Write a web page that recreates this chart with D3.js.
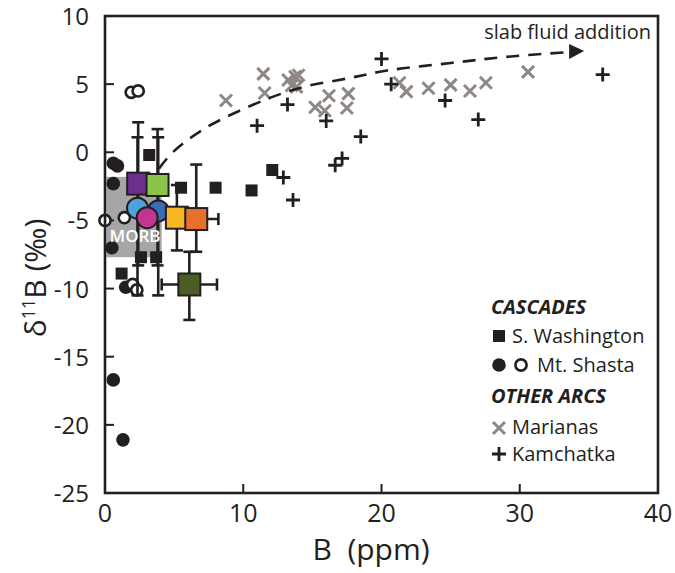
<!DOCTYPE html>
<html><head><meta charset="utf-8">
<script src="https://cdn.jsdelivr.net/npm/d3@7"></script>
<style>body{margin:0;background:#fff}svg{display:block}text{font-family:"Open Sans",sans-serif;fill:#231f20}</style>
</head><body><svg id="c" width="675" height="573"></svg>
<script>
// ---- data ----
const xTicks = [0, 10, 20, 30, 40];
const yTicks = [10, 5, 0, -5, -10, -15, -20, -25];
const morbBox = {x0: 0.1, x1: 4.1, y0: -1.8, y1: -7.7};
// S. Washington (black squares)
const washington = [[3.2,-0.2],[5.5,-2.6],[8.0,-2.6],[10.6,-2.8],[12.1,-1.3],[2.6,-7.7],[3.7,-7.7],[1.2,-8.9]];
// Mt. Shasta filled circles
const shastaFilled = [[0.6,-0.8],[0.9,-1.0],[0.6,-2.3],[0.5,-7.0],[1.5,-9.9],[0.6,-16.7],[1.3,-21.1]];
// Mt. Shasta open circles
const shastaOpen = [[1.9,4.4],[2.4,4.5],[0.0,-5.0],[1.4,-4.8],[2.0,-9.7],[2.3,-10.1]];
// Marianas (grey crosses)
const marianas = [[8.75,3.8],[11.45,5.75],[11.55,4.35],[13.25,5.3],[13.75,5.55],[14.0,5.65],[13.5,4.9],[13.85,4.8],
  [15.2,3.3],[15.9,3.05],[16.2,4.15],[17.6,4.3],[17.5,3.25],[21.3,5.1],[21.8,4.45],[23.4,4.7],[25.0,4.95],[26.4,4.5],[27.55,5.1],[30.6,5.9]];
// Kamchatka (plus)
const kamchatka = [[11.0,1.95],[13.2,3.5],[20.0,6.85],[20.7,5.0],[16.0,2.3],[18.5,1.15],[17.15,-0.45],[16.65,-0.95],
  [12.9,-1.85],[13.6,-3.5],[24.6,3.8],[27.0,2.4],[36.0,5.7]];
// averaged groups
const groupNames = ["purple","lightblue","green","blue","magenta","yellow","orange","olive"];
const groupShape = ["square","circle","square","circle","circle","square","square","square"];
const groupX =    [2.4, 2.35, 3.8, 3.85, 3.05, 5.2, 6.6, 6.1];
const groupY =    [-2.3, -4.1, -2.4, -4.3, -4.8, -4.8, -4.9, -9.7];
const groupYLo =  [-8.3, -10.5, -8.3, -10.5, null, -7.2, -7.3, -12.3];
const groupYHi =  [2.2, 1.1, 1.7, 1.1, null, -2.4, -0.9, -7.3];
const groupXLo =  [null, null, null, null, null, null, 5.0, 4.1];
const groupXHi =  [null, null, null, null, null, null, 8.2, 8.1];
const groupColor = ["#6b2f8c","#4ea3da","#8cc34b","#3c6db4","#c23690","#f8b824","#e8702a","#4b5d24"];
// slab fluid addition trend
const trend = [[3.9,-1.2],[4.9,0.0],[7.3,1.8],[11.7,3.9],[14.4,4.8],[17.7,5.45],[20.4,6.0],[25.0,6.55],[29.0,7.0],[33.5,7.35]];

// ---- chart ----
const svg = d3.select("#c");
const x = d3.scaleLinear().domain([0,40]).range([105,658]);
const y = d3.scaleLinear().domain([-25,10]).range([493,16]);
const ink = "#231f20";

// MORB box
svg.append("rect").attr("x",x(morbBox.x0)).attr("y",y(morbBox.y0))
  .attr("width",x(morbBox.x1)-x(morbBox.x0)).attr("height",y(morbBox.y1)-y(morbBox.y0)).attr("fill","#a6a6a6");

// ticks inside
const g = svg.append("g");
g.selectAll(".xt").data(xTicks.slice(1,-1)).join("line").attr("x1",d=>x(d)).attr("x2",d=>x(d))
  .attr("y1",y(-25)).attr("y2",y(-25)-9).attr("stroke",ink).attr("stroke-width",2);
g.selectAll(".yt").data(yTicks.slice(1,-1)).join("line").attr("y1",d=>y(d)).attr("y2",d=>y(d))
  .attr("x1",x(0)).attr("x2",x(0)+9).attr("stroke",ink).attr("stroke-width",2);
g.selectAll(".xl").data(xTicks).join("text").attr("x",d=>x(d)).attr("y",y(-25)+29)
  .attr("text-anchor","middle").style("font-size","25px").text(d=>d);
g.selectAll(".yl").data(yTicks).join("text").attr("x",x(0)-16).attr("y",d=>y(d)+9)
  .attr("text-anchor","end").style("font-size","24px").text(d=>d);

// Washington squares
svg.selectAll(".wa").data(washington).join("rect").attr("x",d=>x(d[0])-6).attr("y",d=>y(d[1])-6)
  .attr("width",12).attr("height",12).attr("fill",ink);
// Shasta
svg.selectAll(".sf").data(shastaFilled).join("circle").attr("cx",d=>x(d[0])).attr("cy",d=>y(d[1])).attr("r",6.8).attr("fill",ink);
svg.selectAll(".so").data(shastaOpen).join("circle").attr("cx",d=>x(d[0])).attr("cy",d=>y(d[1])).attr("r",5.6)
  .attr("fill","#fff").attr("stroke",ink).attr("stroke-width",2.6);

// error bars
const eb = svg.append("g").attr("stroke",ink).attr("stroke-width",2.6);
groupX.forEach((gx,i)=>{
  if (groupYLo[i]!==null){
    eb.append("line").attr("x1",x(gx)).attr("x2",x(gx)).attr("y1",y(groupYLo[i])).attr("y2",y(groupYHi[i]));
    [groupYLo[i],groupYHi[i]].forEach(v=>eb.append("line").attr("x1",x(gx)-6).attr("x2",x(gx)+6).attr("y1",y(v)).attr("y2",y(v)));
  }
  if (groupXLo[i]!==null){
    eb.append("line").attr("y1",y(groupY[i])).attr("y2",y(groupY[i])).attr("x1",x(groupXLo[i])).attr("x2",x(groupXHi[i]));
    [groupXLo[i],groupXHi[i]].forEach(v=>eb.append("line").attr("y1",y(groupY[i])-6).attr("y2",y(groupY[i])+6).attr("x1",x(v)).attr("x2",x(v)));
  }
});
// MORB label on top of error bars
svg.append("text").attr("x",x((morbBox.x0+morbBox.x1)/2)+1).attr("y",y(-6.6)).attr("text-anchor","middle")
  .style("fill","#fff").style("font-size","17px").style("font-weight","600").text("MORB");

// group markers
groupX.forEach((gx,i)=>{
  if (groupShape[i]==="square"){
    svg.append("rect").attr("x",x(gx)-11).attr("y",y(groupY[i])-11).attr("width",22).attr("height",22)
      .attr("fill",groupColor[i]).attr("stroke",ink).attr("stroke-width",2);
  } else {
    svg.append("circle").attr("cx",x(gx)).attr("cy",y(groupY[i])).attr("r",10.5)
      .attr("fill",groupColor[i]).attr("stroke",ink).attr("stroke-width",2);
  }
});

// Marianas crosses
const xs = 6;
svg.selectAll(".ma").data(marianas).join("path")
  .attr("d",d=>{const cx=x(d[0]),cy=y(d[1]);return `M${cx-xs},${cy-xs}L${cx+xs},${cy+xs}M${cx-xs},${cy+xs}L${cx+xs},${cy-xs}`;})
  .attr("stroke","#8e8783").attr("stroke-width",3).attr("fill","none");
// Kamchatka plus
const ps = 7;
svg.selectAll(".ka").data(kamchatka).join("path")
  .attr("d",d=>{const cx=x(d[0]),cy=y(d[1]);return `M${cx-ps},${cy}L${cx+ps},${cy}M${cx},${cy-ps}L${cx},${cy+ps}`;})
  .attr("stroke",ink).attr("stroke-width",2.8).attr("fill","none");

// trend line
const line = d3.line().x(d=>x(d[0])).y(d=>y(d[1])).curve(d3.curveCatmullRom);
svg.append("path").attr("d",line(trend)).attr("fill","none").attr("stroke",ink).attr("stroke-width",2.6).attr("stroke-dasharray","13,9");
const last = trend[trend.length-1];
const bx = x(last[0])+1, by = y(last[1]);
svg.append("path").attr("d",`M${bx},${by-8}L${bx+15},${by-1}L${bx},${by+7}Z`).attr("fill",ink);
svg.append("text").attr("x",651).attr("y",39).attr("text-anchor","end").style("font-size","20px").text("slab fluid addition");

// frame
svg.append("rect").attr("x",x(0)).attr("y",y(10)).attr("width",x(40)-x(0)).attr("height",y(-25)-y(10))
  .attr("fill","none").attr("stroke",ink).attr("stroke-width",2.6);

// axis titles
svg.append("text").attr("x",371).attr("y",560).attr("text-anchor","middle").style("font-size","30px").text("B\u00a0\u00a0(ppm)");
const yt = svg.append("text").attr("transform","translate(46,278) rotate(-90)").attr("text-anchor","middle").style("font-size","30px");
yt.append("tspan").text("δ");
yt.append("tspan").attr("dy",-11).style("font-size","18px").text("11");
yt.append("tspan").attr("dy",11).text("B (‰)");

// legend
const lg = svg.append("g");
lg.append("text").attr("x",491).attr("y",314).style("font-size","20px").style("font-weight","bold").style("font-style","italic").text("CASCADES");
lg.append("rect").attr("x",493).attr("y",330).attr("width",12).attr("height",12).attr("fill",ink);
lg.append("text").attr("x",512).attr("y",343).style("font-size","20px").text("S. Washington");
lg.append("circle").attr("cx",499).attr("cy",365).attr("r",6.8).attr("fill",ink);
lg.append("circle").attr("cx",521).attr("cy",365).attr("r",5.6).attr("fill","#fff").attr("stroke",ink).attr("stroke-width",2.6);
lg.append("text").attr("x",537).attr("y",372).style("font-size","20px").text("Mt. Shasta");
lg.append("text").attr("x",491).attr("y",403).style("font-size","20px").style("font-weight","bold").style("font-style","italic").text("OTHER ARCS");
lg.append("path").attr("d","M493,422L505,434M493,434L505,422").attr("stroke","#8e8783").attr("stroke-width",3);
lg.append("text").attr("x",512).attr("y",434).style("font-size","20px").text("Marianas");
lg.append("path").attr("d","M492,454L506,454M499,447L499,461").attr("stroke",ink).attr("stroke-width",2.8);
lg.append("text").attr("x",512).attr("y",461).style("font-size","20px").text("Kamchatka");
</script></body></html>
